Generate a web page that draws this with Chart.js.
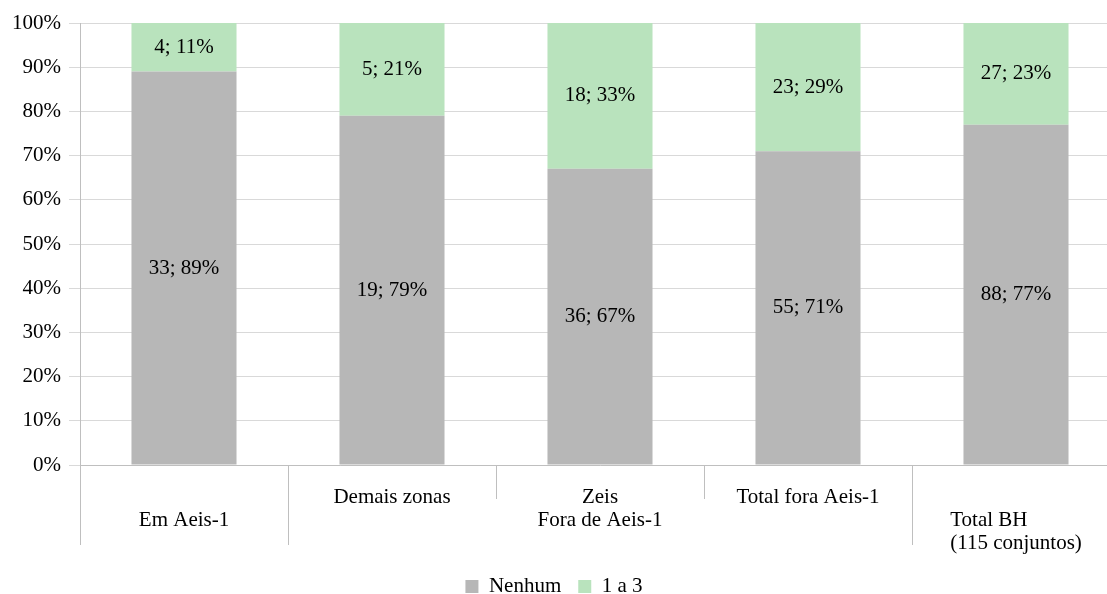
<!DOCTYPE html>
<html>
<head>
<meta charset="utf-8">
<script src="https://cdn.jsdelivr.net/npm/chart.js@4.4.1/dist/chart.umd.min.js"></script>
<style>
    html, body { margin: 0; padding: 0; background: #fff; overflow: hidden; width: 1107px; height: 594px; }
    #wrap { width: 1120px; height: 607px; }
</style>
</head>
<body>
<div id="wrap"><canvas id="grafico"></canvas></div>
<script>
// Categorias (nível interno do eixo) e grupos (nível externo)
const categorias = ['', 'Demais zonas', 'Zeis', 'Total fora Aeis-1', ''];
const grupoRotulos = [['Em Aeis-1'], ['Fora de Aeis-1'], ['Total BH', '(115 conjuntos)']];
const grupoInicio = [0, 1, 4];
const grupoFim = [0, 3, 4];

// Quantidade de conjuntos e percentual por faixa
const nenhumQtd = [33, 19, 36, 55, 88];
const nenhumPct = [89, 79, 67, 71, 77];
const umATresQtd = [4, 5, 18, 23, 27];
const umATresPct = [11, 21, 33, 29, 23];

const yTicks = [0, 10, 20, 30, 40, 50, 60, 70, 80, 90, 100];

const FONTE = "'Liberation Serif', 'Times New Roman', serif";
const TAM = 21;
const corLinha = '#bfbfbf';

// Nomes completos para tooltip
const nomesCompletos = ['Em Aeis-1', 'Demais zonas', 'Zeis - Fora de Aeis-1', 'Total fora Aeis-1', 'Total BH (115 conjuntos)'];

// Rótulos "qtd; pct%" no centro de cada segmento
const rotulosBarras = {
    id: 'rotulosBarras',
    afterDatasetsDraw(chart) {
        const ctx = chart.ctx;
        ctx.save();
        ctx.font = TAM + 'px ' + FONTE;
        ctx.fillStyle = '#000';
        ctx.textAlign = 'center';
        ctx.textBaseline = 'middle';
        chart.data.datasets.forEach((ds, i) => {
            const meta = chart.getDatasetMeta(i);
            meta.data.forEach((bar, j) => {
                const y = (bar.y + bar.base) / 2;
                ctx.fillText(ds.qtd[j] + '; ' + ds.data[j] + '%', bar.x, y);
            });
        });
        ctx.restore();
    }
};

// Eixo de categorias em dois níveis com linhas divisórias
const eixoMultinivel = {
    id: 'eixoMultinivel',
    afterDraw(chart) {
        const ctx = chart.ctx;
        const x = chart.scales.x;
        const base = chart.chartArea.bottom;
        const meia = (x.getPixelForValue(1) - x.getPixelForValue(0)) / 2;
        ctx.save();
        ctx.strokeStyle = corLinha;
        ctx.lineWidth = 1;

        // divisórias: longas nas bordas dos grupos, curtas entre categorias
        for (let i = 0; i <= categorias.length; i++) {
            const px = Math.round(x.getPixelForValue(0) - meia + i * meia * 2) + 0.5;
            const longa = grupoInicio.includes(i) || i === categorias.length;
            ctx.beginPath();
            ctx.moveTo(px, base);
            ctx.lineTo(px, base + (longa ? 80 : 34));
            ctx.stroke();
        }

        ctx.font = TAM + 'px ' + FONTE;
        ctx.fillStyle = '#000';
        ctx.textBaseline = 'middle';

        categorias.forEach((c, i) => {
            if (!c) return;
            ctx.textAlign = 'center';
            ctx.fillText(c, x.getPixelForValue(i), base + 32);
        });

        grupoRotulos.forEach((linhas, g) => {
            const centro = (x.getPixelForValue(grupoInicio[g]) + x.getPixelForValue(grupoFim[g])) / 2;
            const larg = Math.max(...linhas.map(l => ctx.measureText(l).width));
            ctx.textAlign = 'left';
            linhas.forEach((l, k) => {
                ctx.fillText(l, centro - larg / 2, base + 55 + k * 23);
            });
        });
        ctx.restore();
    }
};

new Chart(document.getElementById('grafico'), {
    type: 'bar',
    data: {
        labels: nomesCompletos,
        datasets: [
            {
                label: 'Nenhum',
                data: nenhumPct,
                qtd: nenhumQtd,
                backgroundColor: '#b7b7b7',
                barPercentage: 0.505,
                categoryPercentage: 1
            },
            {
                label: '1 a 3',
                data: umATresPct,
                qtd: umATresQtd,
                backgroundColor: '#b9e3bd',
                barPercentage: 0.505,
                categoryPercentage: 1
            }
        ]
    },
    options: {
        responsive: true,
        maintainAspectRatio: false,
        animation: false,
        layout: {
            padding: { top: 23, left: -12, right: 0, bottom: 0 }
        },
        plugins: {
            legend: {
                position: 'bottom',
                labels: {
                    boxWidth: 13,
                    boxHeight: 13,
                    padding: 17,
                    color: '#000',
                    font: { family: FONTE, size: TAM }
                }
            },
            tooltip: {
                callbacks: {
                    label: (c) => c.dataset.label + ': ' + c.dataset.qtd[c.dataIndex] + '; ' + c.raw + '%'
                }
            }
        },
        scales: {
            x: {
                stacked: true,
                grid: { display: false },
                border: { display: true, color: corLinha },
                ticks: { display: false },
                afterFit: (s) => { s.height = 94; }
            },
            y: {
                stacked: true,
                min: 0,
                max: 100,
                afterBuildTicks: (s) => { s.ticks = yTicks.map(v => ({ value: v })); },
                afterFit: (s) => { s.width = 92; },
                grid: { color: '#d9d9d9', tickLength: 11, tickColor: '#d9d9d9' },
                border: { display: true, color: corLinha },
                ticks: {
                    padding: 8,
                    color: '#000',
                    font: { family: FONTE, size: TAM },
                    callback: (v) => v + '%'
                }
            }
        }
    },
    plugins: [rotulosBarras, eixoMultinivel]
});
</script>
</body>
</html>
